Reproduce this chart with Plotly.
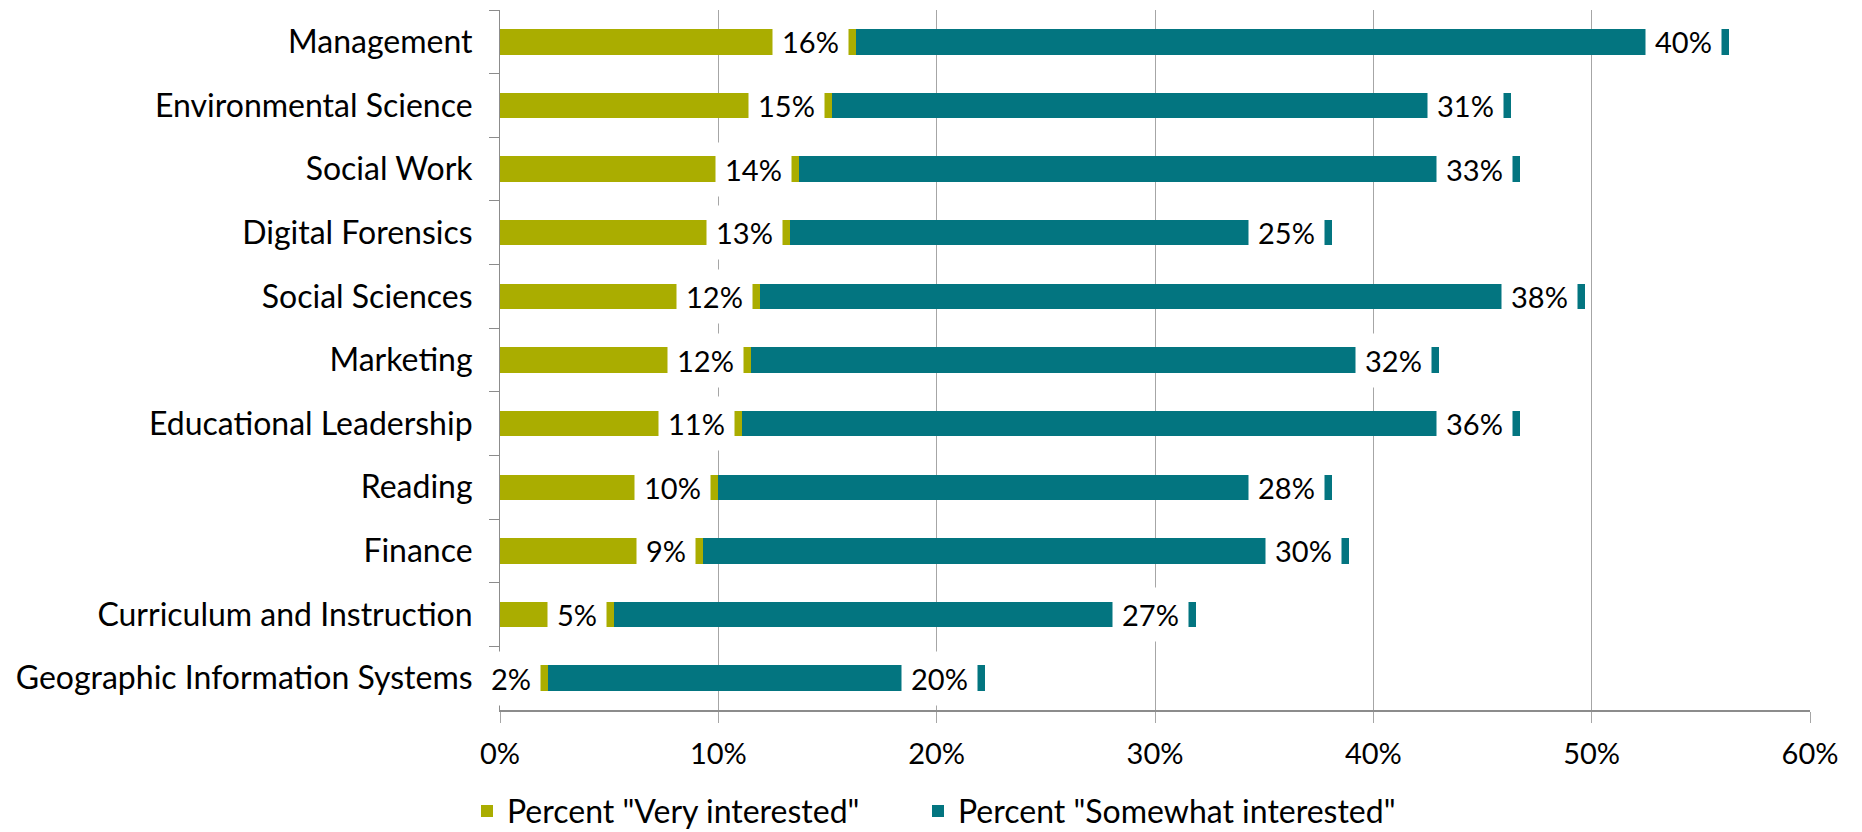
import plotly.graph_objects as go

categories = ["Management", "Environmental Science", "Social Work", "Digital Forensics",
              "Social Sciences", "Marketing", "Educational Leadership", "Reading",
              "Finance", "Curriculum and Instruction", "Geographic Information Systems"]
very_interested = [16.3, 15.2, 13.7, 13.3, 11.9, 11.5, 11.1, 10.0, 9.3, 5.2, 2.2]
somewhat_interested = [40.0, 31.1, 33.0, 24.8, 37.8, 31.5, 35.6, 28.1, 29.6, 26.7, 20.0]
very_labels = ["16%", "15%", "14%", "13%", "12%", "12%", "11%", "10%", "9%", "5%", "2%"]
somewhat_labels = ["40%", "31%", "33%", "25%", "38%", "32%", "36%", "28%", "30%", "27%", "20%"]
x_ticks = [0, 10, 20, 30, 40, 50, 60]

OLIVE = "#AAAD00"
TEAL = "#037580"
FONT = "Lato"
FS_TEXT = 32
FS_NUM = 29
W, H = 1862, 832

fig = go.Figure()
fig.add_trace(go.Bar(y=categories, x=very_interested, orientation="h",
                     name='Percent "Very interested"', legend="legend",
                     marker=dict(color=OLIVE, line=dict(width=0))))
fig.add_trace(go.Bar(y=categories, x=somewhat_interested, orientation="h",
                     name='Percent "Somewhat interested"', legend="legend2",
                     marker=dict(color=TEAL, line=dict(width=0))))

annotations = []
for c, v, s, lv, ls in zip(categories, very_interested, somewhat_interested, very_labels, somewhat_labels):
    for xv, txt in ((v, lv), (v + s, ls)):
        annotations.append(dict(x=xv, y=c, xref="x", yref="y", text=txt, showarrow=False,
                                xanchor="right", xshift=-7, bgcolor="white", borderpad=9,
                                font=dict(family=FONT, size=FS_NUM, color="black")))

legend_common = dict(orientation="h", xref="container", yref="container", y=0.025,
                     xanchor="left", yanchor="middle", itemwidth=30,
                     font=dict(family=FONT, size=FS_TEXT, color="black"),
                     bgcolor="rgba(0,0,0,0)")

fig.update_layout(
    width=W, height=H,
    margin=dict(l=500, r=52, t=10, b=122),
    barmode="stack", bargap=0.6,
    plot_bgcolor="white", paper_bgcolor="white",
    font=dict(family=FONT, size=FS_TEXT, color="black"),
    annotations=annotations,
    showlegend=True,
    legend=dict(x=(481 - 14) / W, **legend_common),
    legend2=dict(x=(932 - 14) / W, **legend_common),
)
fig.update_xaxes(range=[0, 60], tickvals=x_ticks, ticktext=[f"{t}%" for t in x_ticks],
                 showgrid=True, gridcolor="#A6A6A6", gridwidth=1, zeroline=False,
                 showline=True, linecolor="#8C8C8C", linewidth=2,
                 ticks="outside", ticklen=11, tickcolor="#A6A6A6", tickwidth=1,
                 ticklabelstandoff=6, tickfont=dict(family=FONT, size=FS_NUM, color="black"))
fig.update_yaxes(autorange="reversed", showgrid=False, zeroline=False,
                 showline=True, linecolor="#8C8C8C", linewidth=1,
                 ticks="outside", ticklen=10, tickcolor="#8C8C8C", tickson="boundaries",
                 ticklabelstandoff=20, tickfont=dict(family=FONT, size=FS_TEXT, color="black"))

fig.write_html("out.html", config={"displayModeBar": False},
               post_script="document.body.style.margin='0';")
